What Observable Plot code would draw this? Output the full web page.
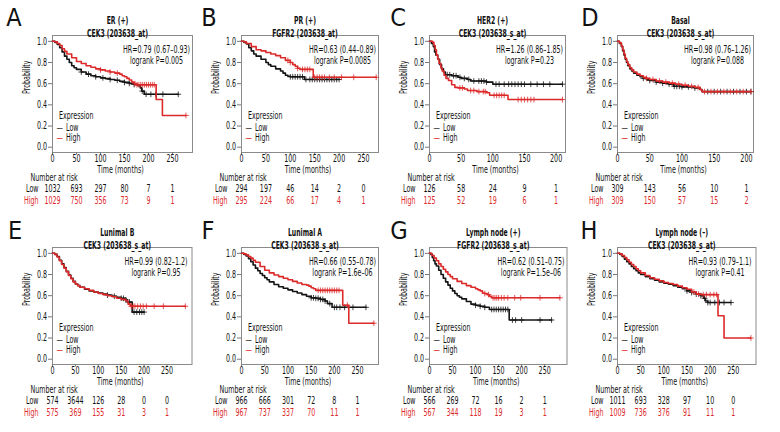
<!DOCTYPE html>
<html>
<head>
<meta charset="utf-8">
<script src="https://cdn.jsdelivr.net/npm/d3@7"></script>
<script src="https://cdn.jsdelivr.net/npm/@observablehq/plot@0.6"></script>
<style>
  html, body { margin: 0; padding: 0; background: #fff; }
  #wrap { position: relative; width: 780px; height: 432px; overflow: hidden; background: #fff;
          font-family: "Liberation Sans Narrow", "Arial Narrow", "DejaVu Sans Condensed", sans-serif; }
  .letter { position: absolute; font-size: 25px; line-height: 25px; color: #111; transform: translate(-50%, -50%); }
  #wrap svg { position: absolute; overflow: visible; }
</style>
</head>
<body>
<div id="wrap"></div>
<script>
// ---------------- DATA ----------------
const panelLetters = ["A", "B", "C", "D", "E", "F", "G", "H"];
const groupTitles = ["ER (+)", "PR (+)", "HER2 (+)", "Basal", "Lunimal B", "Lunimal A", "Lymph node (+)", "Lymph node (–)"];
const probeTitles = ["CEK3 (203638_at)", "FGFR2 (203638_at)", "CEK3 (203638_s_at)", "CEK3 (203638_s_at)",
                     "CEK3 (203638_s_at)", "CEK3 (203638_s_at)", "FGFR2 (203638_s_at)", "CEK3 (203638_s_at)"];
const hrLabels = ["HR=0.79 (0.67–0.93)", "HR=0.63 (0.44–0.89)", "HR=1.26 (0.86–1.85)", "HR=0.98 (0.76–1.26)",
                  "HR=0.99 (0.82–1.2)", "HR=0.66 (0.55–0.78)", "HR=0.62 (0.51–0.75)", "HR=0.93 (0.79–1.1)"];
const pLabels = ["logrank P=0.005", "logrank P=0.0085", "logrank P=0.23", "logrank P=0.088",
                 "logrank P=0.95", "logrank P=1.6e–06", "logrank P=1.5e–06", "logrank P=0.41"];
const xDomainMax = [291.7, 280.7, 214.8, 211, 304.6, 295, 298.5, 299];
const ticks250 = [0, 50, 100, 150, 200, 250];
const ticks200 = [0, 50, 100, 150, 200];
const yTicks = [0, 0.2, 0.4, 0.6, 0.8, 1.0];
const seriesNames = ["Low", "High"];
const legendTitle = "Expression";

// Kaplan–Meier curves: [time (months), survival probability]
const lowA = [[0,1],[5,0.99],[10,0.97],[15,0.94],[20,0.9],[25,0.86],[30,0.83],[35,0.8],[40,0.77],[45,0.75],[50,0.735],[60,0.71],[70,0.69],[80,0.675],[90,0.665],[100,0.655],[110,0.648],[120,0.64],[130,0.632],[140,0.622],[150,0.612],[160,0.603],[170,0.592],[178,0.58],[183,0.56],[186,0.53],[191,0.5],[262,0.5]];
const highA = [[0,1],[5,0.995],[10,0.98],[15,0.96],[20,0.93],[25,0.905],[30,0.88],[40,0.845],[50,0.81],[60,0.79],[70,0.77],[80,0.755],[90,0.74],[100,0.73],[110,0.72],[120,0.71],[130,0.7],[140,0.69],[145,0.675],[150,0.665],[155,0.65],[160,0.635],[165,0.615],[170,0.6],[175,0.59],[216,0.45],[229,0.3],[278,0.3]];
const censLowA = [60,75,90,105,120,135,150,160,170,187,195,205,215,230,262];
const censHighA = [100,120,135,172,176,180,184,188,192,196,200,204,208,212,278];

const lowB = [[0,1],[5,0.99],[10,0.975],[15,0.94],[20,0.91],[25,0.88],[30,0.86],[40,0.83],[50,0.8],[55,0.78],[60,0.765],[70,0.74],[80,0.72],[85,0.7],[90,0.68],[95,0.67],[100,0.665],[129,0.64],[200,0.64]];
const highB = [[0,1],[5,0.995],[10,0.98],[20,0.95],[30,0.92],[40,0.91],[50,0.895],[60,0.88],[70,0.865],[80,0.845],[90,0.82],[100,0.8],[105,0.78],[110,0.765],[115,0.745],[120,0.735],[147,0.66],[276,0.66]];
const censLowB = [100,105,110,115,120,125,132,140,145,150,155,160,165,170,175,180,185,190,195,200];
const censHighB = [95,100,115,125,130,135,140,150,155,160,165,170,180,190,205,230,276];

const lowC = [[0,1],[3,0.98],[6,0.95],[8,0.9],[10,0.87],[13,0.83],[16,0.78],[19,0.74],[22,0.71],[25,0.685],[35,0.675],[45,0.66],[50,0.65],[60,0.64],[65,0.625],[90,0.615],[100,0.595],[210,0.595]];
const highC = [[0,1],[5,0.99],[7,0.96],[9,0.92],[11,0.87],[13,0.83],[15,0.79],[18,0.75],[20,0.72],[23,0.68],[26,0.65],[30,0.63],[35,0.59],[40,0.565],[45,0.56],[55,0.55],[60,0.535],[75,0.525],[90,0.515],[95,0.49],[124,0.45],[210,0.45]];
const censLowC = [28,32,38,42,48,55,62,70,78,82,86,90,105,110,118,125,130,135,140,145,150,160,170,180,190,210];
const censHighC = [48,52,65,70,78,85,88,102,106,110,114,118,140,145,150,155,160,165,210];

const lowD = [[0,1],[3,0.98],[6,0.95],[8,0.91],[10,0.87],[12,0.83],[14,0.8],[16,0.77],[19,0.74],[22,0.72],[25,0.7],[30,0.68],[35,0.665],[40,0.65],[45,0.64],[50,0.63],[60,0.615],[70,0.605],[80,0.595],[87,0.575],[100,0.57],[120,0.56],[128,0.545],[131,0.525],[207,0.525]];
const highD = [[0,1],[3,0.985],[6,0.955],[8,0.92],[10,0.88],[12,0.84],[14,0.81],[16,0.78],[19,0.75],[22,0.73],[25,0.71],[30,0.69],[35,0.675],[40,0.66],[45,0.65],[50,0.64],[60,0.625],[70,0.615],[80,0.605],[90,0.595],[100,0.585],[110,0.575],[120,0.565],[128,0.545],[131,0.525],[207,0.525]];
const censLowD = [40,50,60,70,80,88,92,96,100,110,120,140,150,160,170,180,190,200,207];
const censHighD = [45,55,65,75,85,95,105,115,125,135,145,155,165,175,185,195,207];

const lowE = [[0,1],[5,0.99],[10,0.97],[15,0.935],[20,0.9],[25,0.865],[30,0.83],[35,0.795],[40,0.765],[45,0.735],[50,0.71],[55,0.695],[60,0.68],[70,0.66],[80,0.645],[90,0.635],[100,0.625],[110,0.615],[120,0.605],[130,0.595],[140,0.585],[150,0.575],[160,0.56],[163,0.54],[174,0.445],[200,0.445]];
const highE = [[0,1],[5,0.99],[10,0.965],[15,0.93],[20,0.895],[25,0.86],[30,0.825],[35,0.79],[40,0.76],[45,0.73],[50,0.71],[55,0.695],[60,0.68],[70,0.665],[80,0.65],[90,0.635],[100,0.62],[110,0.61],[120,0.6],[130,0.59],[140,0.575],[150,0.565],[160,0.55],[165,0.52],[170,0.5],[290,0.5]];
const censLowE = [120,135,150,155,160,168,178,184,190,195,200];
const censHighE = [172,176,180,186,192,198,205,222,242,290];

const lowF = [[0,1],[5,0.99],[10,0.975],[15,0.95],[20,0.92],[25,0.89],[30,0.86],[35,0.835],[40,0.81],[45,0.79],[50,0.77],[55,0.75],[60,0.73],[70,0.705],[80,0.685],[90,0.67],[100,0.655],[110,0.64],[120,0.625],[130,0.61],[140,0.595],[150,0.58],[160,0.575],[170,0.565],[180,0.55],[185,0.525],[195,0.49],[268,0.49]];
const highF = [[0,1],[5,0.995],[10,0.985],[15,0.97],[20,0.955],[25,0.935],[30,0.915],[40,0.875],[50,0.84],[60,0.815],[70,0.795],[80,0.78],[90,0.765],[100,0.75],[110,0.735],[120,0.72],[130,0.705],[140,0.7],[145,0.69],[150,0.675],[155,0.665],[160,0.65],[218,0.51],[231,0.34],[285,0.34]];
const censLowF = [150,155,160,165,170,175,180,190,200,205,212,222,240,268];
const censHighF = [165,170,175,180,185,190,195,200,205,210,228,285];

const lowG = [[0,1],[3,0.99],[6,0.96],[9,0.93],[12,0.9],[15,0.88],[20,0.84],[25,0.8],[30,0.765],[35,0.73],[40,0.7],[45,0.67],[50,0.645],[55,0.62],[60,0.6],[65,0.585],[70,0.57],[80,0.545],[90,0.52],[100,0.51],[110,0.5],[120,0.49],[130,0.47],[173,0.37],[265,0.37]];
const highG = [[0,1],[5,0.98],[10,0.955],[15,0.93],[20,0.9],[25,0.875],[30,0.85],[35,0.825],[40,0.8],[45,0.78],[50,0.76],[60,0.735],[70,0.715],[80,0.695],[90,0.68],[100,0.665],[105,0.655],[110,0.645],[115,0.625],[120,0.62],[125,0.61],[130,0.595],[135,0.58],[283,0.58]];
const censLowG = [100,110,120,135,140,145,150,155,160,165,170,180,187,200,240,265];
const censHighG = [120,128,138,142,146,150,156,162,170,185,198,240,283];

const lowH = [[0,1],[5,0.99],[10,0.97],[15,0.945],[20,0.92],[25,0.9],[30,0.875],[35,0.855],[40,0.835],[45,0.815],[50,0.8],[60,0.78],[70,0.76],[80,0.745],[90,0.73],[100,0.718],[110,0.708],[120,0.695],[130,0.68],[140,0.665],[150,0.645],[160,0.63],[170,0.615],[180,0.6],[186,0.575],[190,0.55],[195,0.535],[245,0.535]];
const highH = [[0,1],[5,0.995],[10,0.98],[15,0.96],[20,0.94],[25,0.915],[30,0.895],[35,0.875],[40,0.855],[45,0.835],[50,0.815],[60,0.79],[70,0.77],[80,0.755],[90,0.74],[100,0.725],[110,0.715],[120,0.705],[130,0.69],[140,0.675],[150,0.66],[160,0.635],[170,0.615],[180,0.61],[217,0.41],[230,0.2],[288,0.2]];
const censLowH = [150,160,170,180,188,195,200,210,220,230,245];
const censHighH = [165,175,185,192,200,208,214,288];

// Number at risk
const riskLowA = [1032, 693, 297, 80, 7, 1],   riskHighA = [1029, 750, 356, 73, 9, 1];
const riskLowB = [294, 197, 46, 14, 2, 0],     riskHighB = [295, 224, 66, 17, 4, 1];
const riskLowC = [126, 58, 24, 9, 1],          riskHighC = [125, 52, 19, 6, 1];
const riskLowD = [309, 143, 56, 10, 1],        riskHighD = [309, 150, 57, 15, 2];
const riskLowE = [574, 3644, 126, 28, 0, 0],   riskHighE = [575, 369, 155, 31, 3, 1];
const riskLowF = [966, 666, 301, 72, 8, 1],    riskHighF = [967, 737, 337, 70, 11, 1];
const riskLowG = [566, 269, 72, 16, 2, 1],     riskHighG = [567, 344, 118, 19, 3, 1];
const riskLowH = [1011, 693, 328, 97, 10, 0],  riskHighH = [1009, 736, 376, 91, 11, 1];

// ---------------- BUILD ----------------
const lowCurves = [lowA, lowB, lowC, lowD, lowE, lowF, lowG, lowH];
const highCurves = [highA, highB, highC, highD, highE, highF, highG, highH];
const censLows = [censLowA, censLowB, censLowC, censLowD, censLowE, censLowF, censLowG, censLowH];
const censHighs = [censHighA, censHighB, censHighC, censHighD, censHighE, censHighF, censHighG, censHighH];
const riskLows = [riskLowA, riskLowB, riskLowC, riskLowD, riskLowE, riskLowF, riskLowG, riskLowH];
const riskHighs = [riskHighA, riskHighB, riskHighC, riskHighD, riskHighE, riskHighF, riskHighG, riskHighH];
const xTickSets = [ticks250, ticks250, ticks200, ticks200, ticks250, ticks250, ticks250, ticks250];

// layout (pixels)
const frameLefts = [52, 241, 429, 617];
const frameWidths = [140, 137, 136, 136, 139.5, 137, 137.5, 138.5];
const rowTops = [0, 211.5];
const letterPos = [[14, 17], [209, 17], [398, 17], [590, 17], [15, 230], [208, 230], [399, 230], [589, 230]];

const FONT = '"Liberation Sans Narrow", "Arial Narrow", "DejaVu Sans Condensed", sans-serif';
const FS = 10;
const textColor = "#111";
const lowColor = "#141414";
const highColor = "#dc2a2a";
const lowLegendColor = "#333";

// condensing factors so the text widths match the condensed face of the reference
const ctx = document.createElement("canvas").getContext("2d");
ctx.font = `normal ${FS}px ${FONT}`;
const kNormal = Math.min(1, 67 / ctx.measureText(hrLabels[0]).width);
ctx.font = `bold ${FS}px ${FONT}`;
const kBold = Math.min(1, 61 / ctx.measureText(probeTitles[0]).width);

function condense(svg) {
  svg.querySelectorAll("text").forEach(t => {
    const g = t.closest("[font-weight]");
    const bold = g && String(g.getAttribute("font-weight")) === "bold";
    const k = bold ? kBold : kNormal;
    const tspans = t.querySelectorAll("tspan");
    const targets = tspans.length ? [...tspans] : [t];
    targets.forEach(el => {
      const w = el.getComputedTextLength();
      if (w > 0) {
        el.setAttribute("textLength", (w * k).toFixed(2));
        el.setAttribute("lengthAdjust", "spacingAndGlyphs");
      }
    });
  });
}

const wrap = document.getElementById("wrap");

function stepAt(curve, t) {
  let s = curve[0][1];
  for (const [ct, cs] of curve) { if (ct <= t) s = cs; else break; }
  return s;
}

panelLetters.forEach((letter, i) => {
  const row = Math.floor(i / 4), col = i % 4;
  const ml = 40, mr = 4, mt = 35, mb = 60, fh = 117;
  const fw = frameWidths[i];
  const low = lowCurves[i].map(([t, s]) => ({t, s}));
  const high = highCurves[i].map(([t, s]) => ({t, s}));
  const cl = censLows[i].map(t => ({t, s: stepAt(lowCurves[i], t)}));
  const ch = censHighs[i].map(t => ({t, s: stepAt(highCurves[i], t)}));
  const xt = xTickSets[i];
  const rl = xt.map((t, k) => ({t, n: riskLows[i][k]}));
  const rh = xt.map((t, k) => ({t, n: riskHighs[i][k]}));

  const chart = Plot.plot({
    width: ml + fw + mr,
    height: mt + fh + mb,
    marginLeft: ml, marginRight: mr, marginTop: mt, marginBottom: mb,
    style: {fontFamily: FONT, fontSize: FS + "px", color: textColor, background: "none", overflow: "visible"},
    x: {domain: [0, xDomainMax[i]]},
    y: {domain: [-0.05, 1.055]},
    marks: [
      Plot.frame({stroke: "#8a8a8a", strokeWidth: 1}),
      Plot.axisX({ticks: xt, tickSize: 2.5, tickPadding: 0, stroke: "#777", label: null, fontSize: FS}),
      Plot.axisY({ticks: yTicks, tickFormat: d => d.toFixed(1), tickSize: 4, tickPadding: 1.5, stroke: "#777", label: null, fontSize: FS}),
      Plot.line(low, {x: "t", y: "s", curve: "step-after", stroke: lowColor, strokeWidth: 1.6}),
      Plot.dot(cl, {x: "t", y: "s", symbol: "plus", r: 2, stroke: lowColor, strokeWidth: 0.8}),
      Plot.line(high, {x: "t", y: "s", curve: "step-after", stroke: highColor, strokeWidth: 1.6}),
      Plot.dot(ch, {x: "t", y: "s", symbol: "plus", r: 2, stroke: highColor, strokeWidth: 0.8}),
      // titles
      Plot.text([groupTitles[i]], {text: d => d, frameAnchor: "top", dx: -5, dy: -19, fontWeight: "bold", fontSize: FS}),
      Plot.text([probeTitles[i]], {text: d => d, frameAnchor: "top", dx: -5, dy: -6, fontWeight: "bold", fontSize: FS}),
      // HR / logrank
      Plot.text([hrLabels[i]], {text: d => d, frameAnchor: "top-right", dx: -36, dy: 10, textAnchor: "middle", fontSize: FS}),
      Plot.text([pLabels[i]], {text: d => d, frameAnchor: "top-right", dx: -36, dy: 21.5, textAnchor: "middle", fontSize: FS}),
      // axis labels
      Plot.text(["Probability"], {text: d => d, frameAnchor: "left", dx: -26, rotate: -90, fontSize: FS}),
      Plot.text(["Time (months)"], {text: d => d, frameAnchor: "bottom", dx: -2, dy: 20, fontSize: FS}),
      // legend
      Plot.text([legendTitle], {text: d => d, frameAnchor: "bottom-left", dx: 6.5, dy: -34, textAnchor: "start", fontSize: FS}),
      Plot.text(["—"], {text: d => d, frameAnchor: "bottom-left", dx: 4, dy: -21.5, textAnchor: "start", fill: lowLegendColor, fontSize: FS}),
      Plot.text([seriesNames[0]], {text: d => d, frameAnchor: "bottom-left", dx: 13.5, dy: -21.5, textAnchor: "start", fontSize: FS}),
      Plot.text(["—"], {text: d => d, frameAnchor: "bottom-left", dx: 4, dy: -12, textAnchor: "start", fill: highColor, fontSize: FS}),
      Plot.text([seriesNames[1]], {text: d => d, frameAnchor: "bottom-left", dx: 13.5, dy: -12, textAnchor: "start", fontSize: FS}),
      // number at risk
      Plot.text(["Number at risk"], {text: d => d, frameAnchor: "bottom-left", dx: -22, dy: 28, textAnchor: "start", fontSize: FS}),
      Plot.text([seriesNames[0]], {text: d => d, frameAnchor: "bottom-left", dx: -14, dy: 39.5, textAnchor: "end", fontSize: FS}),
      Plot.text([seriesNames[1]], {text: d => d, frameAnchor: "bottom-left", dx: -14, dy: 51.5, textAnchor: "end", fill: highColor, fontSize: FS}),
      Plot.text(rl, {x: "t", text: d => String(d.n), frameAnchor: "bottom", dy: 39.5, fontSize: FS}),
      Plot.text(rh, {x: "t", text: d => String(d.n), frameAnchor: "bottom", dy: 51.5, fill: highColor, fontSize: FS})
    ]
  });
  chart.style.left = (frameLefts[col] - ml) + "px";
  chart.style.top = rowTops[row] + "px";
  wrap.appendChild(chart);
  condense(chart);

  const L = document.createElement("div");
  L.className = "letter";
  L.textContent = letter;
  L.style.left = letterPos[i][0] + "px";
  L.style.top = letterPos[i][1] + "px";
  wrap.appendChild(L);
});
</script>
</body>
</html>
